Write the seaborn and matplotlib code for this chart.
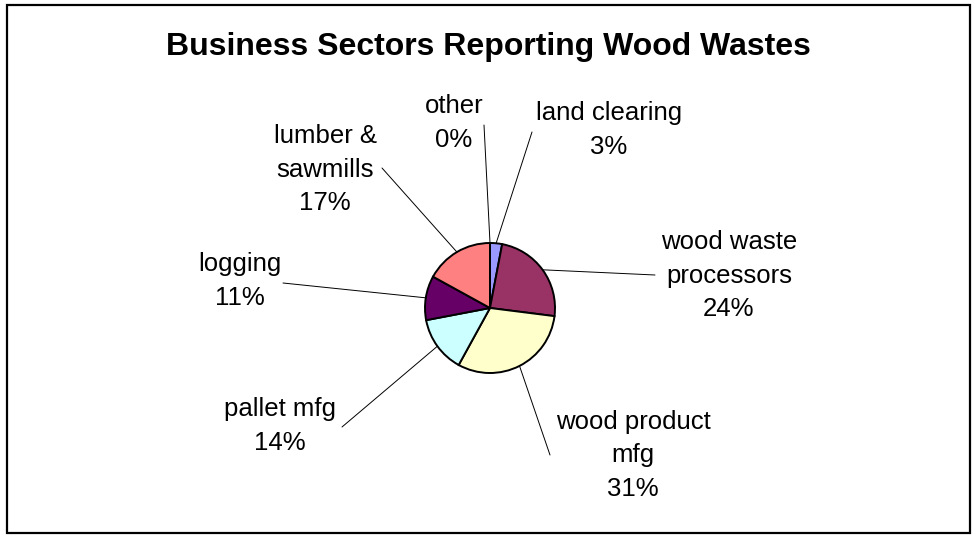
import numpy as np
import matplotlib
matplotlib.use("Agg")
import matplotlib.pyplot as plt
from matplotlib.patches import Rectangle
import seaborn as sns

# data
sectors = ["land clearing", "wood waste\nprocessors", "wood product\nmfg",
           "pallet mfg", "logging", "lumber &\nsawmills", "other"]
shares = [3, 24, 31, 14, 11, 17, 0]
colors = ["#9999FF", "#993366", "#FFFFCC", "#CCFFFF", "#660066", "#FF8080", "#0066CC"]

# layout, in pixels of the 973x535 canvas
W, H = 973, 535
cx, cy, r = 490, 308, 65
label_xy = [(609, 130), (729, 276), (633, 455), (280, 426), (240, 281), (325, 170), (454, 123)]
leader_start = [(532, 132), (655, 275), (550, 455), (342, 427), (283, 283), (382, 168), (484, 125)]

sns.set_theme(style="white")
plt.rcParams["font.family"] = ["Liberation Sans", "DejaVu Sans"]

fig = plt.figure(figsize=(W / 100, H / 100), dpi=100)
ax = fig.add_axes([0, 0, 1, 1])


def to_data(p):
    return ((p[0] - cx) / r, (cy - p[1]) / r)


wedges, _ = ax.pie(shares, colors=colors, startangle=90, counterclock=False,
                   radius=1, center=(0, 0),
                   wedgeprops=dict(edgecolor="black", linewidth=1.4))

for w, name, val, lxy, ls in zip(wedges, sectors, shares, label_xy, leader_start):
    mid = np.deg2rad((w.theta1 + w.theta2) / 2)
    edge = (np.cos(mid), np.sin(mid))
    tx, ty = to_data(lxy)
    ax.text(tx, ty, f"{name}\n{val}%", ha="center", va="center",
            fontsize=18.5, linespacing=1.5, color="black")
    sx, sy = to_data(ls)
    ax.plot([sx, edge[0]], [sy, edge[1]], color="black", lw=0.7)

ax.set_xlim(-cx / r, (W - cx) / r)
ax.set_ylim((cy - H) / r, cy / r)
ax.set_aspect("auto")
ax.axis("off")

fig.text(488 / W, 1 - 47 / H, "Business Sectors Reporting Wood Wastes",
         ha="center", va="center", fontsize=23, fontweight="bold", color="black")

fig.patches.append(Rectangle((7 / W, 2 / H), 963 / W, 528 / H, transform=fig.transFigure,
                             fill=False, edgecolor="black", linewidth=1.6))

fig.savefig("out.png", dpi=100, facecolor="white")
